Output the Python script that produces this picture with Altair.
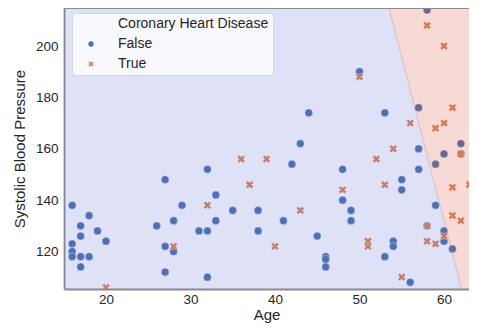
import altair as alt
import pandas as pd

# ---- data ----
false_age = [16, 18, 17, 19, 17, 20, 16, 16, 16, 17, 18, 17,
             26, 28, 29, 31, 27, 28, 27, 27,
             32, 33, 35, 38, 33, 41, 32, 38, 45, 46, 46, 46, 32,
             44, 43, 42, 48, 48, 49, 49, 50,
             53, 57, 57, 62, 60, 62, 59, 57, 55, 55, 59, 58, 60, 60, 54, 54, 53, 56, 61, 58, 64, 64]
false_bp = [138, 134, 130, 128, 126, 124, 123, 120, 118, 118, 118, 114,
            130, 132, 138, 128, 122, 120, 112, 148,
            152, 142, 136, 136, 132, 132, 128, 128, 126, 118, 117, 114, 110,
            174, 162, 154, 152, 140, 136, 132, 190,
            174, 176, 160, 162, 158, 158, 154, 152, 148, 144, 138, 130, 128, 124, 124, 122, 118, 108, 121, 214, 180, 128]

true_age = [20, 28, 32, 36, 39, 37, 40, 43, 48, 50,
            51, 51, 52, 53, 54, 55, 56, 58, 60, 61,
            60, 59, 62, 58, 58, 59, 60, 61, 63, 64,
            61, 62, 64]
true_bp = [106, 122, 138, 156, 156, 146, 122, 136, 144, 188,
           124, 122, 156, 146, 160, 110, 170, 208, 200, 176,
           170, 168, 158, 130, 124, 123, 126, 145, 146, 148,
           134, 132, 138]

# decision boundary (age at two blood-pressure levels)
boundary_bp = [105, 215]
boundary_age = [62.12, 53.47]
region_age_limits = [10, 70]

categories = ["Coronary Heart Disease", "False", "True"]
x_ticks = [20, 30, 40, 50, 60]
y_ticks = [120, 140, 160, 180, 200]
x_domain = [15.03, 62.96]
y_domain = [105.4, 214.8]

# ---- tables ----
pts = pd.DataFrame({
    "Age": false_age + true_age,
    "SBP": false_bp + true_bp,
    "CHD": ["False"] * len(false_age) + ["True"] * len(true_age),
})
reg = pd.DataFrame({
    "SBP": boundary_bp,
    "bound": boundary_age,
    "lo": [region_age_limits[0]] * 2,
    "hi": [region_age_limits[1]] * 2,
})

xsc = alt.Scale(domain=x_domain, nice=False, zero=False)
ysc = alt.Scale(domain=y_domain, nice=False, zero=False)
xax = alt.Axis(values=x_ticks, title="Age", labelPadding=3, titlePadding=2)
yax = alt.Axis(values=y_ticks, title="Systolic Blood Pressure", labelPadding=6, titlePadding=8)

x_path = "M-0.5,-1L0,-0.5L0.5,-1L1,-0.5L0.5,0L1,0.5L0.5,1L0,0.5L-0.5,1L-1,0.5L-0.5,0L-1,-0.5Z"

points = alt.Chart(pts).mark_point(
    filled=True, opacity=1, size=60, stroke="white", strokeWidth=0.4, clip=True
).encode(
    x=alt.X("Age:Q", scale=xsc, axis=xax),
    y=alt.Y("SBP:Q", scale=ysc, axis=yax),
    color=alt.Color("CHD:N", scale=alt.Scale(domain=categories, range=["transparent", "#4c72b0", "#dd8452"]),
                    legend=alt.Legend(title=None)),
    shape=alt.Shape("CHD:N", scale=alt.Scale(domain=categories, range=["circle", "circle", x_path]),
                    legend=alt.Legend(title=None)),
)

blue_reg = alt.Chart(reg).mark_area(orient="horizontal", color="#5564cd", opacity=0.19, clip=True).encode(
    y=alt.Y("SBP:Q", scale=ysc, axis=yax),
    x=alt.X("lo:Q", scale=xsc, axis=xax),
    x2="bound:Q",
)
red_reg = alt.Chart(reg).mark_area(orient="horizontal", color="#d74132", opacity=0.2, clip=True).encode(
    y=alt.Y("SBP:Q", scale=ysc, axis=yax),
    x=alt.X("bound:Q", scale=xsc, axis=xax),
    x2="hi:Q",
)
edge = alt.Chart(reg).mark_line(color="#c2607e", opacity=0.3, strokeWidth=1, clip=True).encode(
    y=alt.Y("SBP:Q", scale=ysc, axis=yax),
    x=alt.X("bound:Q", scale=xsc, axis=xax),
    order="SBP:Q",
)
top_spine = alt.Chart(reg).mark_rule(color="#8c8c8c", strokeWidth=1.8).encode(
    x=alt.value(0), x2=alt.value(405), y=alt.value(0)
)

chart = alt.layer(points, blue_reg, red_reg, edge, top_spine).properties(
    width=405, height=281, autosize="none",
    padding={"left": 56, "top": 0, "right": 0, "bottom": 34},
).configure_view(stroke=None).configure_axis(
    grid=False, ticks=False, domainColor="#8c8c8c", domainWidth=1.8,
    labelFont="Liberation Sans", labelFontSize=13.5, labelColor="#262626",
    titleFont="Liberation Sans", titleFontSize=15, titleColor="#262626", titleFontWeight="normal",
).configure_legend(
    orient="none", legendX=8, legendY=5, padding=4,
    fillColor="rgba(255,255,255,0.8)", strokeColor="#d6d6d6", cornerRadius=3,
    labelFont="Liberation Sans", labelFontSize=14, labelColor="#262626",
    symbolSize=28, symbolOffset=8, labelOffset=20, rowPadding=6, symbolStrokeWidth=0,
)

chart.save("out.html", embed_options={"renderer": "svg", "actions": False})
